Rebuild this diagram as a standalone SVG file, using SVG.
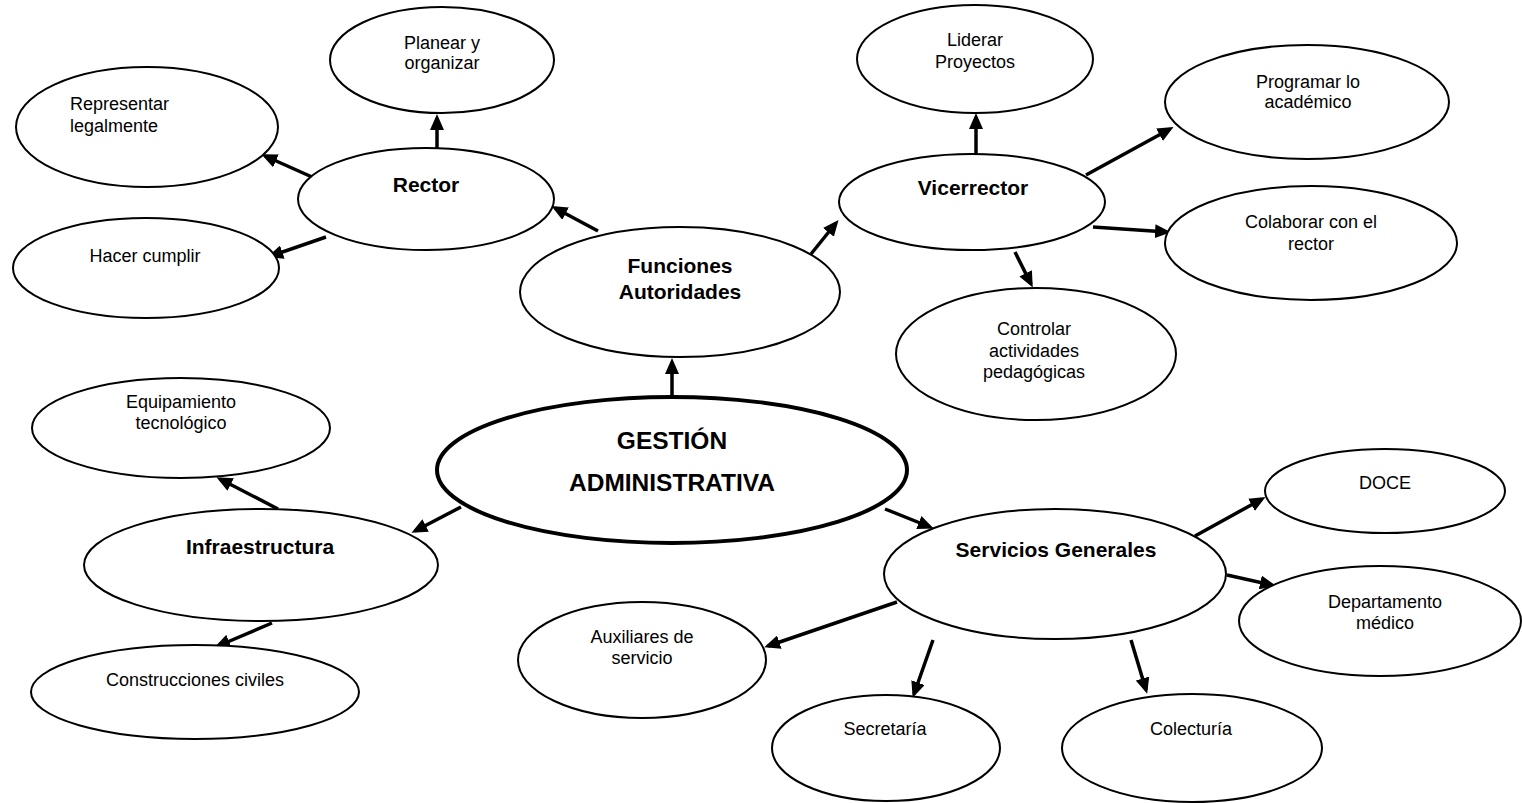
<svg xmlns="http://www.w3.org/2000/svg" width="1522" height="803" viewBox="0 0 1522 803">
<style>
.n{fill:#fff;stroke:#000;stroke-width:2}
.m{fill:#fff;stroke:#000;stroke-width:4}
.t{font-family:"Liberation Sans",Arial,sans-serif;font-size:18px;fill:#000;text-anchor:middle}
.b{font-family:"Liberation Sans",Arial,sans-serif;font-size:21px;font-weight:bold;fill:#000;text-anchor:middle}
.g{font-family:"Liberation Sans",Arial,sans-serif;font-size:24.5px;font-weight:bold;fill:#000;text-anchor:middle}
.c line{stroke:#000;stroke-width:3.5;marker-end:url(#ah)}
</style>
<defs>
<marker id="ah" markerUnits="userSpaceOnUse" markerWidth="16" markerHeight="14" refX="12" refY="7" orient="auto">
<path d="M0,0 L16,7 L0,14 z" fill="#000"/>
</marker>
</defs>
<rect width="1522" height="803" fill="#fff"/>
<g id="connectors" class="c">
<line x1="437" y1="148" x2="437" y2="118"/>
<line x1="312" y1="177" x2="265" y2="156"/>
<line x1="326" y1="237" x2="271" y2="256"/>
<line x1="598" y1="231" x2="555" y2="208"/>
<line x1="811" y1="254" x2="836" y2="223"/>
<line x1="976" y1="154" x2="976" y2="117"/>
<line x1="1086" y1="175" x2="1170" y2="129"/>
<line x1="1093" y1="227" x2="1167" y2="232"/>
<line x1="1015" y1="252" x2="1031" y2="284"/>
<line x1="672" y1="397" x2="672" y2="362"/>
<line x1="461" y1="507" x2="415" y2="531"/>
<line x1="885" y1="509" x2="930" y2="527"/>
<line x1="278" y1="509" x2="220" y2="479"/>
<line x1="272" y1="623" x2="218" y2="646"/>
<line x1="1195" y1="536" x2="1262" y2="499"/>
<line x1="1227" y1="575" x2="1272" y2="585"/>
<line x1="897" y1="602" x2="768" y2="646"/>
<line x1="933" y1="640" x2="914" y2="694"/>
<line x1="1131" y1="640" x2="1146" y2="690"/>
</g>
<g id="planear"><ellipse class="n" cx="442" cy="60" rx="112" ry="53"/><text class="t" x="442" y="49">Planear y</text><text class="t" x="442" y="69">organizar</text></g>
<g id="representar"><ellipse class="n" cx="147" cy="127" rx="131" ry="60"/><text class="t" x="70" y="110" style="text-anchor:start">Representar</text><text class="t" x="70" y="132" style="text-anchor:start">legalmente</text></g>
<g id="rector"><ellipse class="n" cx="426" cy="199" rx="128" ry="51"/><text class="b" x="426" y="192">Rector</text></g>
<g id="hacer"><ellipse class="n" cx="146" cy="268" rx="133" ry="50"/><text class="t" x="145" y="262">Hacer cumplir</text></g>
<g id="funciones"><ellipse class="n" cx="680" cy="292" rx="160" ry="65"/><text class="b" x="680" y="273">Funciones</text><text class="b" x="680" y="299">Autoridades</text></g>
<g id="liderar"><ellipse class="n" cx="975" cy="59" rx="118" ry="54"/><text class="t" x="975" y="46">Liderar</text><text class="t" x="975" y="68">Proyectos</text></g>
<g id="vicerrector"><ellipse class="n" cx="972" cy="202" rx="133" ry="48"/><text class="b" x="973" y="195">Vicerrector</text></g>
<g id="programar"><ellipse class="n" cx="1307" cy="102" rx="142" ry="57"/><text class="t" x="1308" y="88">Programar lo</text><text class="t" x="1308" y="108">académico</text></g>
<g id="colaborar"><ellipse class="n" cx="1311" cy="243" rx="146" ry="57"/><text class="t" x="1311" y="228">Colaborar con el</text><text class="t" x="1311" y="250">rector</text></g>
<g id="controlar"><ellipse class="n" cx="1036" cy="354" rx="140" ry="66"/><text class="t" x="1034" y="335">Controlar</text><text class="t" x="1034" y="357">actividades</text><text class="t" x="1034" y="378">pedagógicas</text></g>
<g id="gestion"><ellipse class="m" cx="672" cy="470" rx="235" ry="73"/><text class="g" x="672" y="449">GESTIÓN</text><text class="g" x="672" y="491">ADMINISTRATIVA</text></g>
<g id="equipamiento"><ellipse class="n" cx="181" cy="428" rx="149" ry="50"/><text class="t" x="181" y="408">Equipamiento</text><text class="t" x="181" y="429">tecnológico</text></g>
<g id="infraestructura"><ellipse class="n" cx="261" cy="565" rx="177" ry="56"/><text class="b" x="260" y="554">Infraestructura</text></g>
<g id="construcciones"><ellipse class="n" cx="195" cy="692" rx="164" ry="47"/><text class="t" x="195" y="686">Construcciones civiles</text></g>
<g id="servicios"><ellipse class="n" cx="1055" cy="574" rx="171" ry="65"/><text class="b" x="1056" y="557">Servicios Generales</text></g>
<g id="doce"><ellipse class="n" cx="1385" cy="491" rx="120" ry="42"/><text class="t" x="1385" y="489">DOCE</text></g>
<g id="departamento"><ellipse class="n" cx="1380" cy="621" rx="141" ry="55"/><text class="t" x="1385" y="608">Departamento</text><text class="t" x="1385" y="629">médico</text></g>
<g id="auxiliares"><ellipse class="n" cx="642" cy="660" rx="124" ry="58"/><text class="t" x="642" y="643">Auxiliares de</text><text class="t" x="642" y="664">servicio</text></g>
<g id="secretaria"><ellipse class="n" cx="886" cy="748" rx="114" ry="53"/><text class="t" x="885" y="735">Secretaría</text></g>
<g id="colecturia"><ellipse class="n" cx="1192" cy="748" rx="130" ry="54"/><text class="t" x="1191" y="735">Colecturía</text></g>
</svg>
